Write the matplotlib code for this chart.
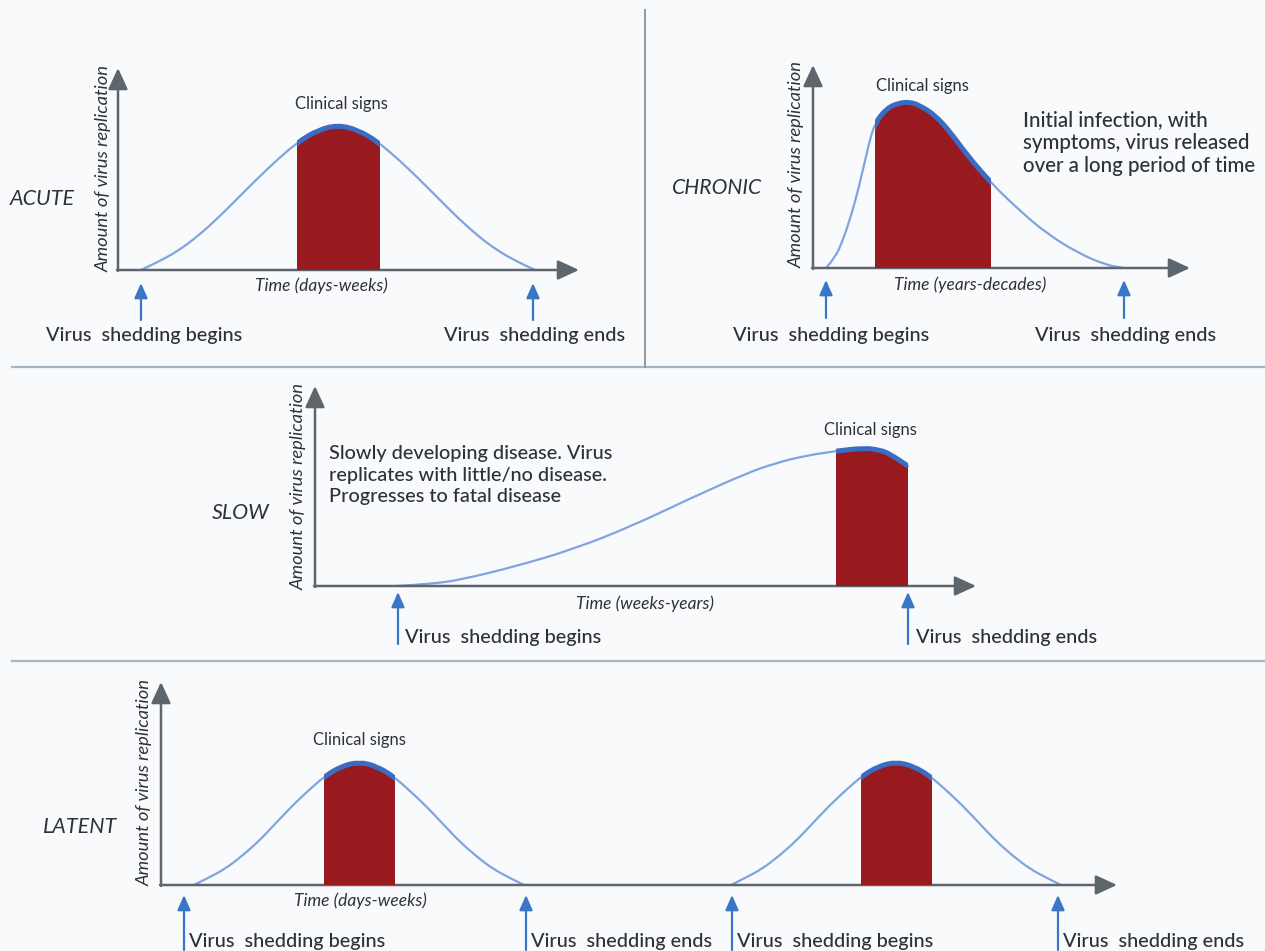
import matplotlib
matplotlib.use("Agg")
import matplotlib.pyplot as plt
from matplotlib.patches import Rectangle, PathPatch
from matplotlib.path import Path

plt.rcParams['font.family'] = ['Lato', 'DejaVu Sans']

W, H = 1265, 951

# ---- curve values (time units, amount units) ----
acute_time = [23, 40, 60, 80, 100, 120, 140, 160, 180, 200, 220,
              240, 260, 280, 300, 320, 340, 360, 380, 400, 417]
acute_amount = [0, 8, 19, 34, 52, 72, 92, 111, 128, 140, 145,
                140, 128, 111, 92, 72, 52, 34, 19, 8, 0]
acute_signs = (179, 262)

chronic_time = [13, 22, 30, 38, 46, 56, 62, 74, 86, 96, 106, 122,
                138, 154, 178, 206, 233, 265, 293, 311]
chronic_amount = [0, 10, 28, 52, 81, 125, 145, 160, 165, 166, 163, 153,
                  135, 113, 85, 58, 35, 15, 3, 0]
chronic_signs = (62, 178)

slow_time = [82, 115, 145, 202, 259, 317, 374, 432, 461, 489, 521,
             549, 565, 575, 593]
slow_amount = [0, 2, 6, 20, 37, 60, 87, 113, 123, 130, 135,
               138, 136, 132, 120]
slow_signs = (521, 593)

latent_time1 = [33, 47, 64, 81, 98, 114, 131, 148, 164, 181, 198,
                215, 232, 248, 265, 282, 298, 315, 332, 349, 363]
latent_time2 = [570, 584, 601, 618, 635, 651, 668, 685, 701, 718, 735,
                752, 769, 785, 802, 819, 835, 852, 869, 886, 900]
latent_amount = [0, 7, 16, 29, 44, 61, 79, 95, 109, 119, 123,
                 119, 109, 95, 79, 61, 44, 29, 16, 7, 0]
latent_signs1 = (163, 234)
latent_signs2 = (700, 771)

TXT = '#2e3236'
AXC = '#5e666d'
CURVE = '#82a4de'
THICK = '#3b6cc1'
RED = '#981a1f'
ARROW = '#3a76c6'
LINEC = '#a5b6c3'

BIG = 14.3

fig = plt.figure(figsize=(W / 100, H / 100), dpi=100, facecolor='#f9fafc')

# background axes in pixel units, used for layout text and dividers
bg = fig.add_axes([0, 0, 1, 1])
bg.set_xlim(0, W)
bg.set_ylim(H, 0)
bg.axis('off')
bg.plot([12, W], [367, 367], color=LINEC, lw=1.6)
bg.plot([12, W], [661, 661], color=LINEC, lw=1.6)
bg.plot([645, 645], [10, 367], color='#8e9aa3', lw=1.4)


def panel(x0, ybase, xlen, ylen):
    ax = fig.add_axes([x0 / W, (H - ybase) / H, xlen / W, ylen / H])
    ax.set_xlim(0, xlen)
    ax.set_ylim(0, ylen)
    ax.axis('off')
    ax.patch.set_alpha(0)
    st = '-|>,head_length=0.65,head_width=0.3'
    ax.annotate('', xy=(xlen, 0), xytext=(-1, 0), annotation_clip=False,
                arrowprops=dict(arrowstyle=st, color=AXC, lw=1.8, mutation_scale=20,
                                shrinkA=0, shrinkB=0))
    ax.annotate('', xy=(0, ylen), xytext=(0, -1), annotation_clip=False,
                arrowprops=dict(arrowstyle=st, color=AXC, lw=1.8, mutation_scale=20,
                                shrinkA=0, shrinkB=0))
    return ax


def smooth_path(t, a, closed=False):
    # quadratic bezier through the read points (points act as control points)
    pts = list(zip(t, a))
    verts = [pts[0]]
    codes = [Path.MOVETO]
    for i in range(1, len(pts) - 1):
        mid = ((pts[i][0] + pts[i + 1][0]) / 2, (pts[i][1] + pts[i + 1][1]) / 2)
        verts += [pts[i], mid]
        codes += [Path.CURVE3, Path.CURVE3]
    verts.append(pts[-1])
    codes.append(Path.LINETO)
    if closed:
        verts += [(t[-1], 0), (t[0], 0), pts[0]]
        codes += [Path.LINETO, Path.LINETO, Path.CLOSEPOLY]
    return Path(verts, codes)


def bump(ax, t, a, signs, ylen):
    ax.add_patch(PathPatch(smooth_path(t, a), fill=False, edgecolor=CURVE, lw=1.6,
                           capstyle='round', zorder=2))
    fill = PathPatch(smooth_path(t, a, closed=True), facecolor=RED, lw=0, zorder=3)
    ax.add_patch(fill)
    fill.set_clip_path(Rectangle((signs[0], 0), signs[1] - signs[0], ylen,
                                 transform=ax.transData))
    top = PathPatch(smooth_path(t, a), fill=False, edgecolor=THICK, lw=3.6, zorder=4)
    ax.add_patch(top)
    top.set_clip_path(Rectangle((signs[0], 0), signs[1] - signs[0], ylen,
                                transform=ax.transData))


def shed_arrow(x, y0, y1):
    bg.annotate('', xy=(x, y1), xytext=(x, y0),
                arrowprops=dict(arrowstyle='-|>,head_length=0.5,head_width=0.22',
                                color=ARROW, lw=1.6, mutation_scale=18,
                                shrinkA=0, shrinkB=0))


def ylab(x, y):
    bg.text(x, y, 'Amount of virus replication', rotation=90, style='italic',
            fontsize=13.2, color=TXT, ha='center', va='center')


def label(x, y, s, **kw):
    kw.setdefault('color', TXT)
    kw.setdefault('va', 'center')
    bg.text(x, y, s, **kw)


# ---------------- ACUTE ----------------
ax = panel(118, 270, 461, 202)
bump(ax, acute_time, acute_amount, acute_signs, 202)
label(10, 199, 'ACUTE', style='italic', fontsize=15.5)
ylab(104, 168)
label(341, 104, 'Clinical signs', ha='center', fontsize=12)
label(321, 286, 'Time (days-weeks)', ha='center', style='italic', fontsize=12.5)
shed_arrow(141, 320, 283)
shed_arrow(533, 320, 283)
label(144, 335, 'Virus  shedding begins', ha='center', fontsize=BIG, weight='medium')
label(535, 335, 'Virus  shedding ends', ha='center', fontsize=BIG, weight='medium')

# ---------------- CHRONIC ----------------
ax = panel(813, 268, 377, 203)
bump(ax, chronic_time, chronic_amount, chronic_signs, 203)
label(672, 188, 'CHRONIC', style='italic', fontsize=15.2)
ylab(797, 165)
label(922, 86, 'Clinical signs', ha='center', fontsize=12)
label(1023, 143, 'Initial infection, with\nsymptoms, virus released\nover a long period of time',
      ha='left', fontsize=14.8, linespacing=1.2, weight='medium')
label(970, 285, 'Time (years-decades)', ha='center', style='italic', fontsize=12.5)
shed_arrow(826, 318, 280)
shed_arrow(1124, 318, 280)
label(831, 335, 'Virus  shedding begins', ha='center', fontsize=BIG, weight='medium')
label(1126, 335, 'Virus  shedding ends', ha='center', fontsize=BIG, weight='medium')

# ---------------- SLOW ----------------
ax = panel(315, 586, 661, 200)
bump(ax, slow_time, slow_amount, slow_signs, 200)
label(212, 513, 'SLOW', style='italic', fontsize=15.5)
ylab(299, 487)
label(870, 430, 'Clinical signs', ha='center', fontsize=12)
label(329, 475, 'Slowly developing disease. Virus\nreplicates with little/no disease.\nProgresses to fatal disease',
      ha='left', fontsize=BIG, linespacing=1.3, weight='medium')
label(645, 604, 'Time (weeks-years)', ha='center', style='italic', fontsize=12.5)
shed_arrow(398, 644, 592)
shed_arrow(908, 644, 592)
label(405, 637, 'Virus  shedding begins', ha='left', fontsize=BIG, weight='medium')
label(916, 637, 'Virus  shedding ends', ha='left', fontsize=BIG, weight='medium')

# ---------------- LATENT ----------------
ax = panel(161, 885, 956, 203)
bump(ax, latent_time1, latent_amount, latent_signs1, 203)
bump(ax, latent_time2, latent_amount, latent_signs2, 203)
label(43, 827, 'LATENT', style='italic', fontsize=15.5)
ylab(145, 782)
label(359, 740, 'Clinical signs', ha='center', fontsize=12)
label(360, 901, 'Time (days-weeks)', ha='center', style='italic', fontsize=12.5)
for x, s in [(184, 'Virus  shedding begins'), (526, 'Virus  shedding ends'),
             (732, 'Virus  shedding begins'), (1058, 'Virus  shedding ends')]:
    shed_arrow(x, 950, 895)
    label(x + 5, 942, s, ha='left', fontsize=BIG, weight='medium')

fig.savefig('out.png', dpi=100, facecolor=fig.get_facecolor())
